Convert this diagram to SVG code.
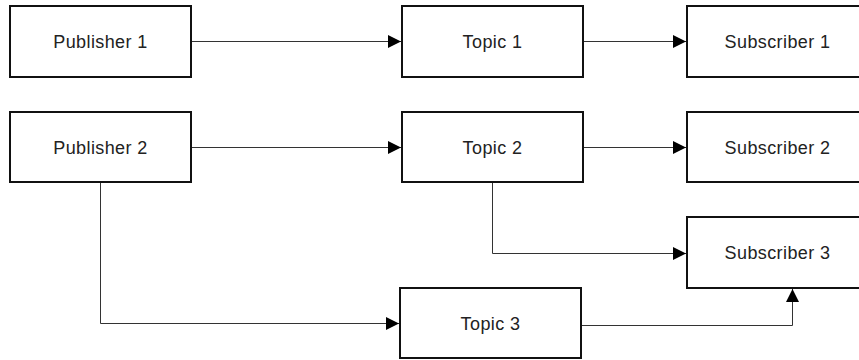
<svg xmlns="http://www.w3.org/2000/svg" width="859" height="360" viewBox="0 0 859 360">
  <style>
    .box { fill: #ffffff; stroke: #111111; stroke-width: 2; }
    .label { font-family: "Liberation Sans", Arial, sans-serif; font-size: 18px; letter-spacing: 0.4px; fill: #222222; text-anchor: middle; }
    .link { fill: none; stroke: #333333; stroke-width: 1; marker-end: url(#arrow); }
  </style>
  <defs>
    <marker id="arrow" markerUnits="userSpaceOnUse" markerWidth="14" markerHeight="13" refX="13" refY="6.5" orient="auto">
      <path d="M0,0 L13,6.5 L0,13 Z" fill="#000000"/>
    </marker>
  </defs>
  <rect width="859" height="360" fill="#ffffff"/>

  <g id="connectors">
    <path class="link" d="M191,41.5 H401"/>
    <path class="link" d="M583,41.5 H686"/>
    <path class="link" d="M191,147.5 H401"/>
    <path class="link" d="M583,147.5 H686"/>
    <path class="link" d="M100.5,182 V323.5 H399"/>
    <path class="link" d="M492.5,182 V253.5 H686"/>
    <path class="link" d="M581,325.5 H792.5 V289"/>
  </g>

  <g id="publisher1">
    <rect class="box" x="10" y="6" width="181" height="71"/>
    <text class="label" x="100.5" y="48">Publisher 1</text>
  </g>
  <g id="topic1">
    <rect class="box" x="402" y="6" width="181" height="71"/>
    <text class="label" x="492.5" y="48">Topic 1</text>
  </g>
  <g id="subscriber1">
    <rect class="box" x="687" y="6" width="181" height="71"/>
    <text class="label" x="777.5" y="48">Subscriber 1</text>
  </g>

  <g id="publisher2">
    <rect class="box" x="10" y="112" width="181" height="70"/>
    <text class="label" x="100.5" y="153.5">Publisher 2</text>
  </g>
  <g id="topic2">
    <rect class="box" x="402" y="112" width="181" height="70"/>
    <text class="label" x="492.5" y="153.5">Topic 2</text>
  </g>
  <g id="subscriber2">
    <rect class="box" x="687" y="112" width="181" height="70"/>
    <text class="label" x="777.5" y="153.5">Subscriber 2</text>
  </g>

  <g id="subscriber3">
    <rect class="box" x="687" y="217" width="181" height="71"/>
    <text class="label" x="777.5" y="259">Subscriber 3</text>
  </g>
  <g id="topic3">
    <rect class="box" x="400" y="288" width="181" height="70"/>
    <text class="label" x="490.5" y="329.5">Topic 3</text>
  </g>
</svg>
